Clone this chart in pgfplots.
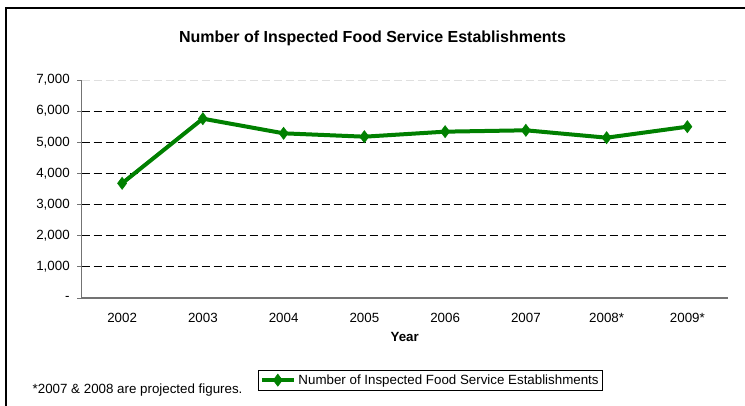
\documentclass[border=0pt]{standalone}
\usepackage{pgfplots}
\pgfplotsset{compat=1.18}
\usepackage{fontspec}
\setmainfont{Liberation Sans}
\definecolor{linegreen}{RGB}{0,128,0}
\begin{document}
\begin{tikzpicture}
\useasboundingbox (0,0) rectangle (558.75pt,-304.5pt);
\draw[line width=1.7pt] (4.65pt,-304.5pt) -- (4.65pt,-5.85pt) -- (558.75pt,-5.85pt);
\node[font=\fontsize{12}{14}\selectfont\bfseries] at (279.4pt,-28.5pt) {Number of Inspected Food Service Establishments};
\node[font=\fontsize{10}{12}\selectfont, anchor=base west] at (21pt,-295pt) {*2007 \& 2008 are projected figures.};
\begin{axis}[
  at={(61.3pt,-223.5pt)}, anchor=south west,
  scale only axis, width=484.5pt, height=163.5pt,
  xmin=-0.5, xmax=7.5, ymin=0, ymax=7000,
  axis x line=bottom, axis y line=left,
  axis line style={-, draw=gray!90!black, line width=0.8pt},
  xtick={0,1,2,3,4,5,6,7},
  xticklabels={2002,2003,2004,2005,2006,2007,2008*,2009*},
  xtick style={draw=none},
  ytick={0,1000,2000,3000,4000,5000,6000},
  yticklabels={-,{1,000},{2,000},{3,000},{4,000},{5,000},{6,000}},
  extra y ticks={7000},
  extra y tick labels={7{,}000},
  extra y tick style={grid style={gray!25, dash pattern=on 6pt off 3pt, line width=0.6pt}},
  ytick style={draw=gray!90!black, line width=0.6pt},
  tick align=outside, major tick length=3.5pt,
  ticklabel style={font=\fontsize{10}{12}\selectfont},
  xticklabel style={yshift=-4pt},
  yticklabel style={xshift=-2pt},
  ymajorgrids,
  grid style={black, dash pattern=on 6pt off 3pt, line width=0.6pt},
  xlabel={Year},
  xlabel style={font=\fontsize{10}{12}\selectfont\bfseries, yshift=-1pt},
  legend style={at={(0.273,-0.33)}, anchor=north west, draw=black, line width=0.6pt,
    font=\fontsize{10}{12}\selectfont, inner xsep=1pt, inner ysep=1pt,
    legend cell align=left},
  legend image code/.code={\draw[#1, line width=3pt] (0pt,0pt) -- (24pt,0pt); \draw[#1, mark repeat=1] plot coordinates {(12pt,0pt)};},
]
\addplot[linegreen, line width=3pt, mark=diamond*, mark size=4.5pt, mark options={solid, fill=linegreen, line width=0.5pt}]
  coordinates {(0,3683) (1,5758) (2,5288) (3,5180) (4,5341) (5,5385) (6,5148) (7,5501)};
\addlegendentry{Number of Inspected Food Service Establishments}
\end{axis}
\end{tikzpicture}
\end{document}
